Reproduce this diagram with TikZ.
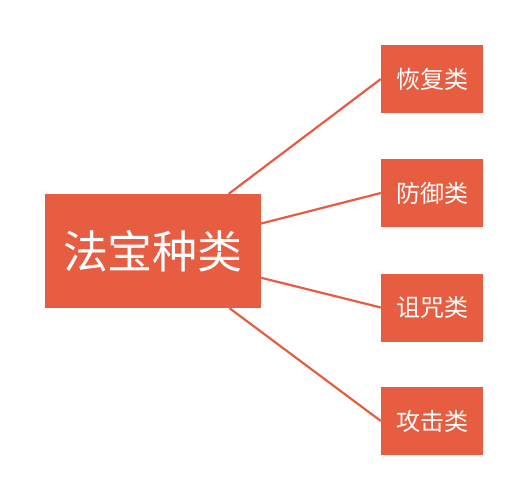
\documentclass[tikz,border=0pt]{standalone}
\usepackage{fontspec}
\usepackage{xcolor}
\usepackage{tikz}
\newfontfamily\cjk{Noto Sans CJK SC}
\definecolor{fabaored}{HTML}{E75D41}

\begin{document}
\begin{tikzpicture}[x=1pt,y=1pt,
  rootbox/.style={fill=fabaored,shape=rectangle,text=white,minimum width=216pt,minimum height=114pt,inner sep=0pt,font=\cjk\fontsize{45}{50}\selectfont},
  kindbox/.style={fill=fabaored,shape=rectangle,text=white,minimum width=102pt,minimum height=68pt,inner sep=0pt,font=\cjk\fontsize{24}{28}\selectfont},
  branch/.style={draw=fabaored,line width=2.2pt}]
\useasboundingbox (0,0) rectangle (528,-501);

\node (fabao) at (153,-251) [rootbox] {\raisebox{-3pt}{法宝种类}};

\node (huifu) at (432,-79) [kindbox] {\raisebox{-2pt}{恢复类}};
\node (fangyu) at (432,-193) [kindbox] {\raisebox{-2pt}{防御类}};
\node (zuzhou) at (432,-307.5) [kindbox] {\raisebox{-2pt}{诅咒类}};
\node (gongji) at (432,-421) [kindbox] {\raisebox{-2pt}{攻击类}};

\draw [branch] (fabao) -- (huifu.west);
\draw [branch] (fabao) -- (fangyu.west);
\draw [branch] (fabao) -- (zuzhou.west);
\draw [branch] (fabao) -- (gongji.west);
\end{tikzpicture}
\end{document}
